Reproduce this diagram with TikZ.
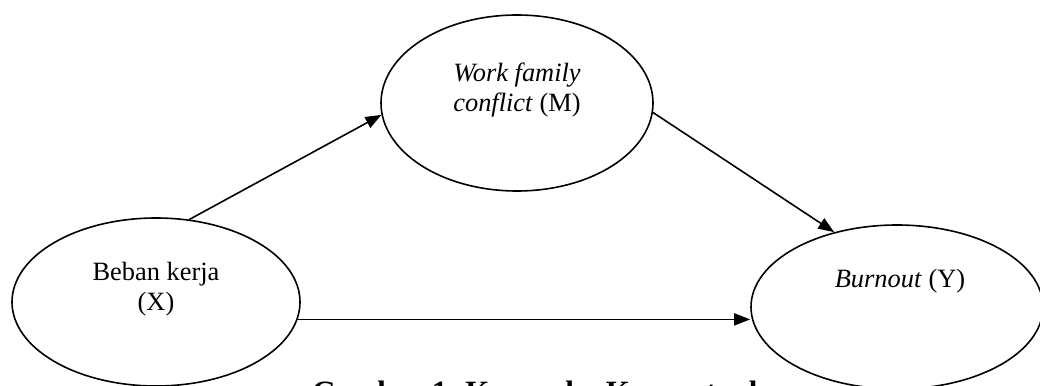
\documentclass[tikz,border=0pt]{standalone}
\usepackage{fontspec}
\setmainfont{Liberation Serif}
\usetikzlibrary{shapes.geometric,arrows.meta,calc}
\tikzset{
  var/.style={draw=black,line width=1.6pt,ellipse,inner sep=0pt},
  lbl/.style={inner sep=0pt,align=center,font=\fontsize{26.4}{30}\selectfont},
  arr/.style={line width=1.6pt,-{Triangle[length=16pt,width=12pt]}},
  captxt/.style={inner sep=0pt,anchor=base west,font=\fontsize{31}{36}\selectfont\bfseries}
}
\begin{document}
\begin{tikzpicture}[x=1pt,y=-1pt]
\useasboundingbox (0,0) rectangle (1040,385);
\node[var,minimum width=288pt,minimum height=168pt] (X) at (156,302) {};
\node[var,minimum width=272pt,minimum height=176pt] (M) at (517,103) {};
\node[var,minimum width=292pt,minimum height=164pt] (Y) at (897,307) {};
\node[lbl,anchor=base] (xt1) at (156,280) {Beban kerja};
\node[lbl,anchor=base] (xt2) at (156,310) {(X)};
\node[lbl,anchor=base] (mt1) at (517,82) {\itshape Work family};
\node[lbl,anchor=base] (mt2) at (517,111) {\textit{conflict} (M)};
\node[lbl,anchor=base] (yt) at (900,287) {\textit{Burnout} (Y)};
\draw[arr] (X.68) -- (M.185);
\draw[arr] (M.-4) -- (Y.130);
\draw[arr] (X.-7) -- (X.-7 -| Y.west);
\node[captxt] (caption) at (312,402) {Gambar 1. Kerangka Konseptual};
\end{tikzpicture}
\end{document}
